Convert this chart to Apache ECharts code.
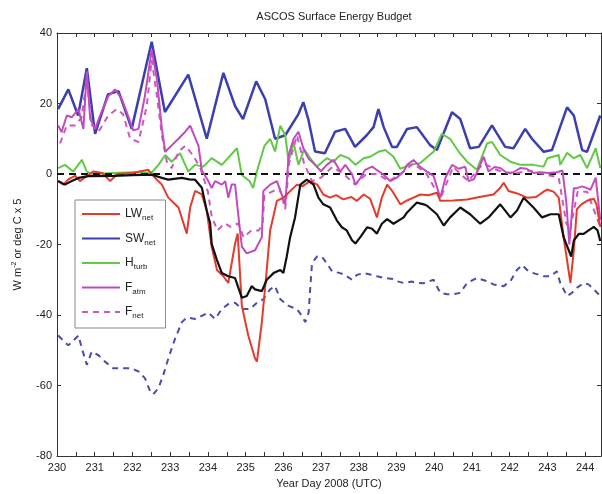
<!DOCTYPE html>
<html><head><meta charset="utf-8">
<script src="https://cdn.jsdelivr.net/npm/echarts@6/dist/echarts.min.js"></script>
<style>html,body{margin:0;padding:0;background:#fff}#c{width:602px;height:494px}</style>
</head><body><div id="c"></div>
<script>
// ---- data (Year Day 2008, values in W m-2 or deg C x 5) ----
const xTicks = [230,231,232,233,234,235,236,237,238,239,240,241,242,243,244];
const yTicks = [-80,-60,-40,-20,0,20,40];

const lwDays = [230.03,230.17,230.3,230.48,230.61,230.8,230.96,231.2,231.41,231.6,232.0,232.42,232.6,232.78,232.95,233.22,233.44,233.53,233.66,233.84,233.97,234.1,234.24,234.41,234.54,234.72,234.79,234.9,235.07,235.25,235.3,235.43,235.56,235.65,235.83,236.0,236.36,236.5,236.71,236.9,237.06,237.24,237.4,237.59,237.8,237.95,238.13,238.3,238.48,238.61,238.75,238.9,239.1,239.28,239.45,239.63,239.85,240.07,240.16,240.5,240.87,241.2,241.57,241.75,241.84,241.97,242.2,242.46,242.7,242.9,242.99,243.16,243.3,243.43,243.61,243.7,243.78,243.9,244.05,244.23,244.3,244.4];
const lwVals = [-2,-3,-1.5,-0.5,-2,-0.5,0.7,0.3,-2,0,0.3,1.2,-1.1,-3,-6.7,-9.5,-16.9,-9.5,-4.8,-5.8,-10.4,-20.6,-27.2,-29,-30.9,-19.7,-16.9,-37.4,-45.8,-52.3,-53.2,-42,-27.2,-16,-7.6,-6.7,-3,-3.5,-2,-3,-5.8,-6.7,-6,-7.2,-6.5,-7.6,-5.8,-7,-12.3,-6.7,-3,-5,-8.6,-7.5,-6.7,-5.8,-6,-5.3,-7.6,-7.5,-7.2,-6.5,-5.8,-3.9,-2.5,-4.8,-5.5,-6.7,-6.5,-5,-4.4,-5,-6.7,-18,-30.9,-21.6,-10,-8.6,-7.6,-7,-8.6,-15];

const swDays = [230.03,230.3,230.56,230.79,231.01,231.35,231.63,231.98,232.51,232.86,233.48,233.97,234.41,234.72,234.93,235.28,235.52,235.78,236.05,236.4,236.53,236.66,236.84,237.1,237.37,237.64,237.9,238.21,238.39,238.52,238.66,238.88,239.01,239.28,239.54,239.89,240.07,240.47,240.69,240.95,241.18,241.53,241.88,242.1,242.41,242.59,242.9,243.12,243.52,243.7,243.92,244.05,244.4];
const swVals = [18.4,24,16.6,30,11.4,22.6,23.5,12.8,37.5,17.6,28.2,10,28.7,19.3,15.6,26.3,21.2,10,11,17,20.4,15.6,6.4,5.9,12,12.8,7.7,11,13.3,18.4,13.3,7.7,7.7,12.8,13.3,8.2,6.8,17.5,15.6,7.3,7.7,13.8,7.7,7.3,12.8,10,6.3,6.8,18.9,16.6,6.8,6.3,16.6];

const hDays = [230.03,230.21,230.43,230.66,230.79,230.95,231.5,232.0,232.5,232.69,232.87,233.04,233.26,233.48,233.66,233.88,234.1,234.37,234.77,234.9,235.1,235.2,235.3,235.5,235.65,235.78,235.92,236.05,236.14,236.27,236.4,236.55,236.71,236.89,237.15,237.33,237.51,237.73,237.91,238.13,238.3,238.52,238.7,238.92,239.1,239.36,239.63,239.98,240.2,240.42,240.65,240.87,241.13,241.4,241.53,241.75,242.02,242.28,242.63,242.9,243.0,243.3,243.34,243.52,243.7,243.87,244.05,244.28,244.4];
const hVals = [1.7,2.6,0.7,4,0.7,0,0.3,0.5,0.3,2.6,5.4,3.5,5.9,0.7,2.6,2.1,4.5,2.6,7.3,-0.3,-2,-4,0.8,8,10,6.4,13.7,11,3.6,9,2.6,7,4.5,2.1,4.5,3.5,5.4,4.5,2.6,4.5,4.9,6.3,6.8,4.9,1.5,2.6,3.1,6.3,11.4,10,6.3,3.5,1.2,8.7,9.1,5.4,3.5,2.6,2.6,2.1,4.5,5.4,2.6,6,4.5,5.4,1.7,7.3,1.7];

const faDays = [230.03,230.12,230.26,230.39,230.57,230.7,230.79,230.88,231.01,231.14,231.36,231.54,231.72,231.85,232.02,232.16,232.33,232.51,232.65,232.78,232.87,233.0,233.22,233.4,233.53,233.75,233.84,234.01,234.1,234.19,234.37,234.46,234.54,234.63,234.72,234.81,234.9,235.03,235.25,235.43,235.47,235.65,235.83,236.05,236.14,236.27,236.4,236.53,236.66,236.84,237.0,237.15,237.33,237.51,237.64,237.82,237.91,238.05,238.17,238.35,238.5,238.66,238.83,239.01,239.19,239.28,239.45,239.63,239.81,239.98,240.16,240.3,240.47,240.65,240.82,240.91,241.05,241.31,241.44,241.6,241.75,241.93,242.1,242.28,242.45,242.63,242.8,243.03,243.25,243.4,243.5,243.58,243.7,243.78,243.92,244.05,244.14,244.28,244.4];
const faVals = [13.8,11.9,16.6,16.1,18.4,12.8,29.1,15.6,12.8,16.6,22.1,24,21.2,17.5,12.4,12.8,22.1,35.2,26.8,12.8,6.3,7.7,10,12,13.7,8,1,-2,-4,-2,-3,-2,-6.7,-3,-3,-12,-20.6,-22.5,-21.6,-17.9,-4.8,-3,-2,-8.6,5.4,10,12,7.3,4.5,2.6,0.8,2.6,4,0.7,2.6,0,-3,-1,1.2,2.1,1,-0.2,-2,-1,0.7,2.6,4,2,0.7,-0.5,-6.7,-1,2.6,1.5,2.1,-2,-1.5,4.9,0.7,2,1.7,0.3,0.5,1.7,1.5,0.3,0.5,0.3,0.5,1,-8,-20,-4,-4,-3.5,-4,-4.5,-1,-13];

const fnDays = [230.08,230.26,230.48,230.65,230.79,230.92,231.1,231.36,231.58,231.75,231.94,232.16,232.38,232.51,232.65,232.78,232.91,233.04,233.22,233.4,233.6,233.8,234.0,234.1,234.25,234.45,234.6,234.8,234.95,235.15,235.35,235.45,235.5,235.7,235.9,236.05,236.15,236.36,236.55,236.76,237.0,237.3,237.6,237.9,238.2,238.5,238.8,239.1,239.45,239.8,240.16,240.5,240.9,241.3,241.7,242.1,242.5,242.9,243.3,243.5,243.6,243.8,244.05,244.4];
const fnVals = [8.7,13.8,13.8,16,26.8,14,12,16.6,18.4,17,10,9.1,19.3,32.4,22.1,11,3.5,1.7,6.3,8,5.4,1.7,-5,-12,-16,-14,-15,-14,-18,-16,-16,-14,-6,-5,-4,-10,3,11,3,-2,-1,2,0,-3,0,0,-2,0,3,0,-7,2,-2,3,1,0,1,0,-1,-14,-16,-5,-5,-15];

const kDays = [230.03,230.21,230.39,230.57,230.83,231.5,232.0,232.51,232.78,232.95,233.31,233.5,233.66,233.84,233.97,234.06,234.1,234.24,234.37,234.54,234.72,234.9,235.03,235.16,235.25,235.43,235.56,235.74,235.92,236.0,236.09,236.18,236.31,236.45,236.62,236.8,236.93,237.06,237.24,237.42,237.55,237.68,237.82,237.91,238.04,238.22,238.35,238.48,238.61,238.75,238.92,239.19,239.28,239.54,239.72,239.81,240.07,240.25,240.42,240.69,240.95,241.22,241.44,241.75,242.02,242.19,242.37,242.63,242.86,243.08,243.3,243.43,243.63,243.7,243.83,243.96,244.09,244.23,244.33,244.4];
const kVals = [-2,-3,-2,-1.1,-0.6,-0.5,-0.3,-0.2,-1.1,-1.6,-1.1,-1.5,-1.6,-3.9,-10.4,-14,-19.8,-24.4,-28.1,-29,-29.5,-35.1,-34.6,-31.8,-32.7,-33.2,-30,-28.1,-27.2,-28.1,-23.4,-17.9,-12.3,-3,-1.6,-3,-6.7,-8.6,-9.5,-13.2,-15.1,-16,-18.8,-19.7,-17.9,-15.1,-15.5,-16.9,-14.1,-12.8,-14.1,-12.3,-10.9,-8.1,-8.6,-9,-11.4,-14.6,-12.3,-9.5,-11.4,-14.1,-12.3,-8.6,-12.3,-10.4,-6.7,-9.5,-12.3,-11.4,-11.4,-17.9,-23.4,-18.8,-17,-17,-16,-15,-16,-19];

const bdDays = [230.03,230.3,230.57,230.66,230.79,230.92,231.1,231.27,231.49,231.72,231.98,232.16,232.33,232.47,232.55,232.69,232.82,232.95,233.13,233.31,233.44,233.66,233.84,234.01,234.19,234.37,234.54,234.72,234.9,235.12,235.3,235.47,235.65,235.78,235.92,236.14,236.36,236.49,236.58,236.67,236.71,236.76,236.89,237.02,237.15,237.29,237.51,237.68,237.82,237.95,238.13,238.3,238.48,238.7,238.9,239.01,239.19,239.4,239.54,239.7,239.98,240.16,240.34,240.51,240.69,240.87,241.13,241.4,241.57,241.84,242.02,242.19,242.33,242.46,242.63,242.9,243.08,243.25,243.34,243.52,243.65,243.78,243.96,244.09,244.23,244.4];
const bdVals = [-45.8,-48.6,-45.8,-49.5,-54.1,-50.4,-51.4,-53.2,-55.1,-55.1,-55.1,-56,-57.9,-61.6,-62.5,-60.7,-56.9,-52.3,-46.7,-42,-40.7,-41.1,-40.2,-39.3,-41.1,-38.3,-36.9,-36.5,-38.3,-38.3,-36.5,-35.5,-32.7,-31.8,-35.5,-37.4,-38.3,-40.2,-42,-39.3,-32.7,-25.3,-23.4,-23.4,-25.3,-27.6,-28.1,-29,-30,-28.6,-28.1,-28.5,-29,-29.5,-29.8,-30.4,-30.9,-30.5,-30.9,-31,-30,-33.7,-34.1,-34.1,-33.7,-30.9,-29.5,-30.4,-31.3,-31.8,-30.4,-27.2,-25.8,-27.2,-28.1,-29,-29,-27.6,-30.9,-34.6,-33.7,-32.3,-30.9,-31.3,-32.7,-34.6];

const legendNames = ['LW_net','SW_net','H_turb','F_atm','F_net'];
const legendLabels = {LW_net:['LW','net'],SW_net:['SW','net'],H_turb:['H','turb'],F_atm:['F','atm'],F_net:['F','net']};

const zip = (a,b) => a.map((d,i) => [d,b[i]]);

const chart = echarts.init(document.getElementById('c'), null, {renderer:'canvas'});
const FONT = 'Liberation Sans, Arial, sans-serif';
const lbl = {fontFamily:FONT,fontSize:11,color:'#222'};

function line(name, days, vals, color, width, dashed, z){
  return {name, type:'line', data: zip(days, vals), showSymbol:false, symbol:'none', z,
    lineStyle:{color, width, type: dashed ? [6,5] : 'solid'}, itemStyle:{color}, animation:false};
}

chart.setOption({
  animation:false,
  title:{text:'ASCOS Surface Energy Budget', left:329, textAlign:'center', top:6,
    textStyle:{fontFamily:FONT,fontSize:11,fontWeight:'normal',color:'#222'}},
  grid:{left:57, right:1, top:33, bottom:31, show:false},
  legend:{data:legendNames, orient:'vertical', left:75, top:200, itemWidth:38, itemHeight:12, itemGap:10.5,
    backgroundColor:'#fff', borderColor:'#888', borderWidth:1, padding:[8,10,8,6],
    itemStyle:{opacity:0},
    formatter: n => '{m|' + legendLabels[n][0] + '}{s|' + legendLabels[n][1] + '}',
    textStyle:{fontFamily:FONT, color:'#222', rich:{m:{fontSize:12,fontFamily:FONT},s:{fontSize:8,fontFamily:FONT,padding:[8,0,0,0]}}}},
  xAxis:[{type:'value', min:230, max:244.42, interval:0.5, position:'bottom',
    name:'Year Day 2008 (UTC)', nameLocation:'middle', nameGap:20, nameTextStyle:lbl,
    axisLine:{show:true,onZero:false,lineStyle:{color:'#333'}}, axisTick:{inside:true,length:4,lineStyle:{color:'#333'}},
    axisLabel:Object.assign({margin:6, showMaxLabel:false, formatter:v => (Math.abs(v-Math.round(v))<1e-6 && xTicks.includes(Math.round(v))) ? String(Math.round(v)) : ''}, lbl),
    splitLine:{show:false}},
    {type:'value', min:230, max:244.42, interval:0.5, position:'top',
    axisLine:{show:true,onZero:false,lineStyle:{color:'#333'}}, axisTick:{inside:true,length:4,lineStyle:{color:'#333'}},
    axisLabel:{show:false}, splitLine:{show:false}}],
  yAxis:[{type:'value', min:-80, max:40, interval:20, position:'left',
    name:'{a|W m}{b|-2}{a| or deg C x 5}', nameLocation:'middle', nameGap:33, nameRotate:90,
    nameTextStyle:{fontFamily:FONT,color:'#222',rich:{a:{fontSize:11,fontFamily:FONT},b:{fontSize:7,fontFamily:FONT,padding:[0,0,6,0]}}},
    axisLine:{show:true,onZero:false,lineStyle:{color:'#333'}}, axisTick:{inside:true,length:4,lineStyle:{color:'#333'}},
    axisLabel:Object.assign({margin:5, formatter:v => yTicks.includes(v) ? String(v) : ''}, lbl), splitLine:{show:false}},
    {type:'value', min:-80, max:40, interval:20, position:'right',
    axisLine:{show:true,onZero:false,lineStyle:{color:'#333'}}, axisTick:{inside:true,length:4,lineStyle:{color:'#333'}},
    axisLabel:{show:false}, splitLine:{show:false}}],
  series:[
    line('Tdash', bdDays, bdVals, '#4b4dab', 2, true, 2),
    line('SW_net', swDays, swVals, '#3c3fae', 2.5, false, 3),
    line('H_turb', hDays, hVals, '#62c846', 2, false, 4),
    line('F_net', fnDays, fnVals, '#c85ac4', 2, true, 5),
    line('F_atm', faDays, faVals, '#c24bbf', 2, false, 6),
    line('LW_net', lwDays, lwVals, '#e33b2c', 2, false, 7),
    Object.assign(line('black', kDays, kVals, '#111111', 2.2, false, 8), {
      markLine:{silent:true, symbol:'none', label:{show:false}, lineStyle:{color:'#111',type:[7,5],width:2}, data:[{yAxis:0}]}})
  ]
});
</script></body></html>
